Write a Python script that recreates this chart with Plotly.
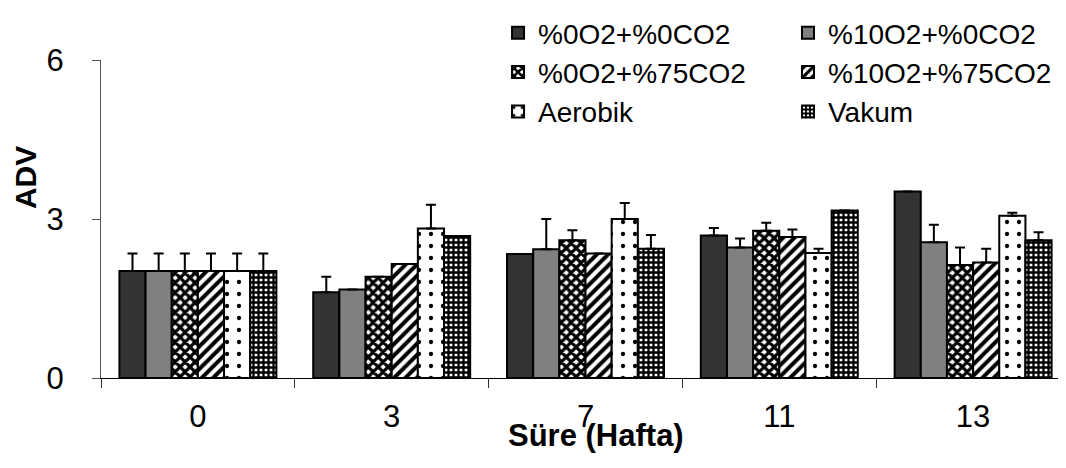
import plotly.graph_objects as go

weeks = ["0", "3", "7", "11", "13"]
series_names = ["%0O2+%0CO2", "%10O2+%0CO2", "%0O2+%75CO2", "%10O2+%75CO2", "Aerobik", "Vakum"]

s1 = [2.02, 1.62, 2.34, 2.69, 3.52]
s2 = [2.02, 1.67, 2.43, 2.46, 2.56]
s3 = [2.02, 1.91, 2.60, 2.78, 2.13]
s4 = [2.02, 2.15, 2.35, 2.66, 2.18]
s5 = [2.02, 2.82, 3.00, 2.36, 3.06]
s6 = [2.02, 2.68, 2.44, 3.16, 2.60]

e1 = [0.33, 0.29, 0.00, 0.14, 0.00]
e2 = [0.33, 0.00, 0.57, 0.17, 0.33]
e3 = [0.33, 0.00, 0.19, 0.15, 0.33]
e4 = [0.33, 0.00, 0.00, 0.14, 0.26]
e5 = [0.33, 0.45, 0.30, 0.08, 0.06]
e6 = [0.33, 0.00, 0.26, 0.00, 0.15]

values = [s1, s2, s3, s4, s5, s6]
errors = [e1, e2, e3, e4, e5, e6]

styles = [
    dict(color="#333333"),
    dict(color="#808080"),
    dict(color="white", pattern=dict(shape="x", fgcolor="black", bgcolor="white", size=7, solidity=0.7, fgopacity=1)),
    dict(color="white", pattern=dict(shape="/", fgcolor="black", bgcolor="white", size=8, solidity=0.5, fgopacity=1)),
    dict(color="white", pattern=dict(shape=".", fgcolor="black", bgcolor="white", size=12, solidity=0.1, fgopacity=1)),
    dict(color="white", pattern=dict(shape="+", fgcolor="black", bgcolor="white", size=5, solidity=0.7, fgopacity=1)),
]
legend_of = ["legend", "legend2", "legend", "legend2", "legend", "legend2"]

fig = go.Figure()
for name, v, e, st, lg in zip(series_names, values, errors, styles, legend_of):
    marker = dict(line=dict(color="black", width=2))
    marker["color"] = st["color"]
    if "pattern" in st:
        marker["pattern"] = st["pattern"]
    fig.add_trace(go.Bar(
        x=weeks, y=v, name=name, marker=marker, legend=lg,
        error_y=dict(type="data", array=e, symmetric=False, arrayminus=[0]*len(e),
                     color="black", thickness=2, width=5),
    ))

legend_common = dict(orientation="v", xref="container", yref="container",
                     y=1.04, xanchor="left", yanchor="top", itemwidth=30,
                     font=dict(size=28), bgcolor="rgba(0,0,0,0)", traceorder="normal")

fig.update_layout(
    width=1066, height=468,
    margin=dict(l=93, r=4, t=52, b=98, autoexpand=False),
    plot_bgcolor="white", paper_bgcolor="white",
    barmode="group", bargap=0.19, bargroupgap=0,
    font=dict(family="Liberation Sans, Arial, sans-serif", size=30, color="black"),
    showlegend=True,
    legend=dict(x=0.4597, **legend_common),
    legend2=dict(x=0.7317, **legend_common),
    xaxis=dict(type="category", tickson="boundaries", ticks="outside", ticklen=9,
               tickcolor="#333", showline=True, linecolor="black", linewidth=1,
               showgrid=False, tickfont=dict(size=31), ticklabelstandoff=11),
    yaxis=dict(range=[0, 6], tickvals=[0, 3, 6], ticks="outside", ticklen=8,
               tickcolor="#555", showline=True, linecolor="#555", linewidth=1,
               showgrid=False, zeroline=False, tickfont=dict(size=31), ticklabelstandoff=22),
    annotations=[
        dict(text="<b>Süre (Hafta)</b>", xref="paper", yref="paper", x=0.511, y=-0.18,
             xanchor="center", yanchor="middle", showarrow=False, font=dict(size=31)),
        dict(text="<b>ADV</b>", xref="paper", yref="paper", x=-0.078, y=0.63,
             xanchor="center", yanchor="middle", showarrow=False, textangle=-90, font=dict(size=30)),
    ],
)

fig.write_html("out.html")
